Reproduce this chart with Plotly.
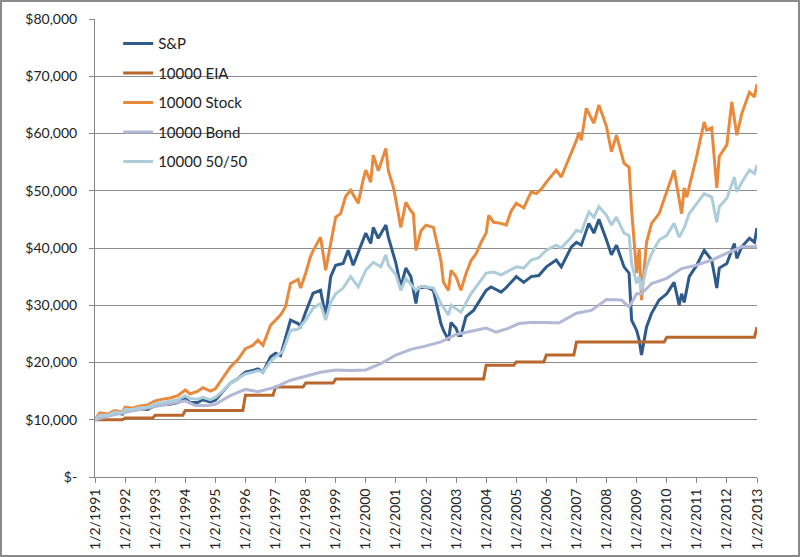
import plotly.graph_objects as go

# ---------------- data ----------------
sp_dates = ["1991-01","1991-03","1991-06","1991-09","1991-12","1992-01","1992-04","1992-07","1992-10",
            "1993-01","1993-04","1993-07","1993-10","1994-01","1994-03","1994-06","1994-08","1994-11",
            "1995-01","1995-04","1995-07","1995-10","1996-01","1996-04","1996-06","1996-08","1996-11",
            "1997-01","1997-03","1997-04","1997-07","1997-10","1997-11","1998-01","1998-04","1998-07",
            "1998-09","1998-11","1999-01","1999-04","1999-06","1999-08","1999-10","2000-01","2000-03",
            "2000-04","2000-06","2000-09","2000-10","2000-12","2001-01","2001-03","2001-05","2001-07",
            "2001-09","2001-10","2002-01","2002-04","2002-06","2002-07","2002-08","2002-10","2002-11",
            "2003-01","2003-02","2003-03","2003-05","2003-08","2003-10","2004-01","2004-03","2004-07",
            "2004-09","2004-11","2005-01","2005-04","2005-07","2005-10","2006-01","2006-05","2006-07",
            "2006-11","2007-01","2007-03","2007-06","2007-08","2007-10","2008-01","2008-03","2008-05",
            "2008-08","2008-10","2008-11","2009-01","2009-02","2009-03","2009-05","2009-07","2009-10",
            "2010-01","2010-04","2010-06","2010-07","2010-08","2010-10","2011-01","2011-04","2011-07",
            "2011-09","2011-10","2012-01","2012-04","2012-05","2012-07","2012-10","2012-12","2013-01"]
sp_values = [10000,11000,10800,11200,11000,11600,11600,11900,11800,
             12500,12600,12700,13000,13700,13000,13000,13500,13100,
             13400,14800,16400,17200,18300,18600,18900,18300,21000,
             21600,21200,22700,27400,26800,26300,28800,32100,32600,
             28000,35000,37000,37300,39600,37000,39100,42600,40800,
             43600,41700,44000,41900,39100,37300,33200,36500,35000,
             30300,33000,33200,32600,29000,26800,25600,23900,27000,
             26000,24700,24700,28000,29100,30500,32600,33200,32300,
             33100,34000,35000,34000,35000,35200,36700,37900,36700,
             40200,41000,40500,44300,42600,45000,41400,38800,40500,
             36700,35600,27400,25600,23900,21300,26200,28600,30900,
             32000,34000,30000,32000,30500,35000,37000,39600,37900,
             33000,36500,37300,40800,38200,40200,41700,41000,43500]

eia_dates = ["1991-01","1991-12","1992-01","1992-12","1993-01","1993-12","1994-01","1995-12","1996-01",
             "1996-12","1997-01","1997-12","1998-01","1998-12","1999-01","2003-12","2004-01","2004-12",
             "2005-01","2005-12","2006-01","2006-12","2007-01","2009-12","2010-01","2012-12","2013-01"]
eia_values = [10000,10000,10300,10300,10800,10800,11600,11600,14300,
              14300,15700,15700,16400,16400,17100,17100,19500,19500,
              20100,20100,21300,21300,23600,23600,24400,24400,26200]

stock_dates = ["1991-01","1991-03","1991-06","1991-09","1991-12","1992-01","1992-04","1992-07","1992-10",
               "1993-01","1993-04","1993-07","1993-10","1994-01","1994-03","1994-06","1994-08","1994-11",
               "1995-01","1995-04","1995-07","1995-10","1996-01","1996-04","1996-06","1996-08","1996-11",
               "1997-01","1997-03","1997-05","1997-07","1997-10","1997-11","1998-01","1998-03","1998-04",
               "1998-07","1998-09","1998-11","1999-01","1999-03","1999-05","1999-07","1999-10","1999-12",
               "2000-01","2000-03","2000-04","2000-06","2000-07","2000-09","2000-10","2000-12","2001-01",
               "2001-03","2001-05","2001-07","2001-08","2001-09","2001-11","2002-01","2002-04","2002-06",
               "2002-07","2002-08","2002-10","2002-11","2003-01","2003-03","2003-05","2003-07","2003-09",
               "2003-11","2004-01","2004-02","2004-04","2004-07","2004-09","2004-11","2005-01","2005-04",
               "2005-07","2005-09","2005-11","2006-01","2006-05","2006-07","2006-09","2006-12","2007-01",
               "2007-02","2007-03","2007-05","2007-08","2007-10","2008-01","2008-03","2008-05","2008-08",
               "2008-10","2008-11","2009-01","2009-02","2009-03","2009-05","2009-07","2009-10","2010-01",
               "2010-04","2010-07","2010-08","2010-09","2011-01","2011-04","2011-05","2011-07","2011-09",
               "2011-10","2012-01","2012-03","2012-05","2012-07","2012-10","2012-12","2013-01"]
stock_values = [10000,11200,11000,11600,11300,12200,12000,12400,12600,
                13300,13600,13800,14200,15200,14500,15000,15600,15000,
                15400,17300,19200,20500,22400,23000,23900,23000,26500,
                27400,28300,29700,33800,34500,33000,35600,38500,39500,
                41900,36100,40500,45400,46000,49000,50100,47800,52000,
                53600,51500,56200,53500,54800,57400,53500,50600,48300,
                43600,48000,46500,46000,39600,43000,44000,43600,40000,
                37800,34000,32600,36100,35000,32600,35500,37800,39000,
                41000,42600,45700,44500,44300,44000,46500,47800,47000,
                49800,49500,50300,51500,53600,52400,54500,57500,58800,
                60200,58800,64400,61800,65000,61200,56800,59700,54800,
                54100,46600,35600,40000,30900,41000,44300,46000,49800,
                53600,46000,50500,48900,56100,62000,60600,61000,50500,
                56000,58000,65500,59700,63500,67200,66400,68600]

bond_dates = ["1991-01","1991-06","1992-01","1992-07","1993-01","1993-07","1994-01","1994-05","1994-10",
              "1995-01","1995-07","1996-01","1996-06","1997-01","1997-07","1998-01","1998-07","1999-01",
              "1999-07","2000-01","2000-07","2001-01","2001-07","2002-01","2002-07","2003-01","2003-07",
              "2004-01","2004-05","2004-10","2005-02","2005-07","2006-01","2006-06","2007-01","2007-07",
              "2008-01","2008-07","2008-10","2009-01","2009-03","2009-07","2010-01","2010-07","2011-01",
              "2011-07","2012-01","2012-07","2013-01"]
bond_values = [10000,10600,11300,11800,12300,12900,13300,12500,12500,
               12700,14200,15300,14900,15700,16900,17600,18300,18700,
               18600,18700,19800,21300,22300,22900,23600,24900,25400,
               26000,25300,26000,26800,27000,27000,26900,28600,29100,
               31000,30900,29700,32000,32000,33800,34700,36400,37000,
               37900,39100,40200,40200]

mix_dates = ["1991-01","1991-03","1991-06","1991-09","1991-12","1992-01","1992-04","1992-07","1992-10",
             "1993-01","1993-04","1993-07","1993-10","1994-01","1994-03","1994-06","1994-08","1994-11",
             "1995-01","1995-04","1995-07","1995-10","1996-01","1996-04","1996-06","1996-08","1996-11",
             "1997-01","1997-04","1997-07","1997-10","1998-01","1998-04","1998-07","1998-09","1998-11",
             "1999-01","1999-04","1999-07","1999-10","2000-01","2000-04","2000-07","2000-09","2000-10",
             "2001-01","2001-03","2001-05","2001-09","2001-11","2002-01","2002-04","2002-07","2002-10",
             "2002-11","2003-03","2003-07","2003-10","2004-01","2004-04","2004-07","2004-10","2005-01",
             "2005-04","2005-07","2005-10","2006-01","2006-05","2006-07","2006-11","2007-01","2007-03",
             "2007-06","2007-08","2007-10","2008-01","2008-03","2008-05","2008-08","2008-10","2008-11",
             "2009-01","2009-02","2009-03","2009-05","2009-07","2009-10","2010-01","2010-04","2010-06",
             "2010-08","2010-10","2011-01","2011-04","2011-07","2011-09","2011-10","2012-01","2012-04",
             "2012-05","2012-07","2012-10","2012-12","2013-01"]
mix_values = [10000,10800,10800,11300,11200,11800,11800,12100,12200,
              12800,13000,13200,13500,14200,13700,13600,13900,13500,
              13900,15000,16400,17200,18000,18300,18600,18300,20200,
              21000,22000,25600,25800,27400,29500,30300,27400,30500,
              32000,33000,35000,33200,36100,37500,36700,38800,37000,
              35300,32600,34700,32600,33300,33200,33000,30300,28300,
              30000,28800,32000,33800,35600,35800,35300,36000,36700,
              36500,37900,38300,39600,40500,40000,41900,43100,42800,
              46300,45400,47200,45700,44000,45400,42600,42200,37300,
              33800,35000,32600,36700,39000,41400,42200,44300,41900,
              43500,46000,47800,49500,48900,44500,47200,48700,52400,
              49800,51500,53600,53000,54500]

series_names = ["S&P", "10000 EIA", "10000 Stock", "10000 Bond", "10000 50/50"]
series_colors = ["#2F5A8C", "#B9672C", "#E8893B", "#B2B8D6", "#AECDDB"]

year_ticks = list(range(1991, 2014))
tick_vals = [f"{y}-01-01" for y in year_ticks]
tick_text = [f"1/2/{y}" for y in year_ticks]
y_tick_vals = [0, 10000, 20000, 30000, 40000, 50000, 60000, 70000, 80000]
y_tick_text = ["$-", "$10,000", "$20,000", "$30,000", "$40,000", "$50,000", "$60,000", "$70,000", "$80,000"]

# ---------------- figure ----------------
all_series = [(sp_dates, sp_values), (eia_dates, eia_values), (stock_dates, stock_values),
              (bond_dates, bond_values), (mix_dates, mix_values)]

fig = go.Figure()
for i, ((xs, ys), name, col) in enumerate(zip(all_series, series_names, series_colors)):
    fig.add_trace(go.Scatter(x=[d + "-01" for d in xs], y=ys, name=name, mode="lines",
                             line=dict(color=col, width=3), legendgroup=f"g{i}"))

font_family = "Lato, 'Open Sans', sans-serif"
L, R, T, B = 95, 43, 19, 80
PW, PH = 800 - L - R, 557 - T - B
fig.update_layout(
    width=800, height=557,
    margin=dict(l=L, r=R, t=T, b=B, autoexpand=False),
    paper_bgcolor="white", plot_bgcolor="white",
    font=dict(family=font_family, size=13, color="#222222"),
    showlegend=True,
    legend=dict(x=0.035, y=0.982, xanchor="left", yanchor="top",
                bgcolor="rgba(0,0,0,0)", font=dict(size=15, color="#222222"),
                tracegroupgap=7, traceorder="grouped"),
    xaxis=dict(type="date", range=["1991-01-01", "2013-01-01"], automargin=False,
               tickvals=tick_vals, ticktext=tick_text, tickangle=-90,
               showgrid=False, showline=True, linecolor="#868686", linewidth=1,
               ticks="outside", ticklen=5, tickcolor="#868686", zeroline=False,
               tickfont=dict(size=14)),
    yaxis=dict(range=[0, 80000], tickvals=y_tick_vals, ticktext=y_tick_text, automargin=False,
               showgrid=True, gridcolor="#8C8C8C", gridwidth=1,
               showline=True, linecolor="#868686", linewidth=1,
               ticks="outside", ticklen=5, tickcolor="#868686", zeroline=False,
               tickfont=dict(size=14), ticklabelstandoff=9),
)

# outer chart border (Excel style)
fig.add_shape(type="rect", xref="paper", yref="paper",
              x0=(1 - L) / PW, x1=(799 - L) / PW, y0=(PH + T - 556) / PH, y1=(PH + T - 1) / PH,
              line=dict(color="#8A8A8A", width=2), fillcolor="rgba(0,0,0,0)", layer="below")

fig.write_html("out.html", config={"displayModeBar": False},
               post_script="document.body.style.margin='0';document.body.style.overflow='hidden';")
